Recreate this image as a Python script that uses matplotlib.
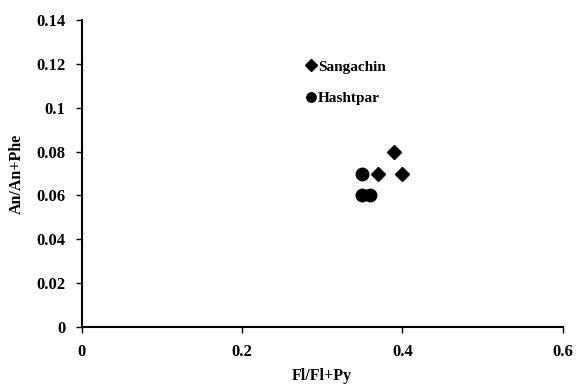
import matplotlib
matplotlib.use("Agg")
import matplotlib.pyplot as plt

# Sangachin (diamonds) and Hashtpar (circles)
sang_x = [0.37, 0.39, 0.40]
sang_y = [0.07, 0.08, 0.07]
hash_x = [0.35, 0.35, 0.36]
hash_y = [0.07, 0.06, 0.06]

xticks = [0, 0.2, 0.4, 0.6]
yticks = [0, 0.02, 0.04, 0.06, 0.08, 0.1, 0.12, 0.14]
xlabels = ["0", "0.2", "0.4", "0.6"]
ylabels = ["0", "0.02", "0.04", "0.06", "0.08", "0.1", "0.12", "0.14"]

plt.rcParams['font.family'] = ['Liberation Serif', 'DejaVu Serif']
plt.rcParams['font.weight'] = 'bold'

fig = plt.figure(figsize=(5.76, 3.87), dpi=100)
ax = fig.add_axes([0.142, 0.155, 0.835, 0.793])

ax.plot(sang_x, sang_y, 'D', color='black', ms=7.5, label='Sangachin', clip_on=False)
ax.plot(hash_x, hash_y, 'o', color='black', ms=9, label='Hashtpar', clip_on=False)

ax.set_xlim(0, 0.6)
ax.set_ylim(0, 0.14)
ax.set_xticks(xticks)
ax.set_xticklabels(xlabels)
ax.set_yticks(yticks)
ax.set_yticklabels(ylabels)

for s in ['top', 'right']:
    ax.spines[s].set_visible(False)
for s in ['left', 'bottom']:
    ax.spines[s].set_linewidth(1.5)
ax.tick_params(direction='out', length=4, width=1, labelsize=12, pad=8)

ax.set_xlabel('Fl/Fl+Py', fontsize=11.5, fontweight='bold', labelpad=6)
ax.set_ylabel('An/An+Phe', fontsize=11.5, fontweight='bold', labelpad=8)

leg = ax.legend(loc='upper left', bbox_to_anchor=(0.44, 0.915), frameon=False,
                handlelength=0.5, handletextpad=0.2, labelspacing=1.15,
                markerscale=0.75, prop={'family': 'Liberation Serif', 'weight': 'bold', 'size': 11})

fig.savefig("out.png", dpi=100)
